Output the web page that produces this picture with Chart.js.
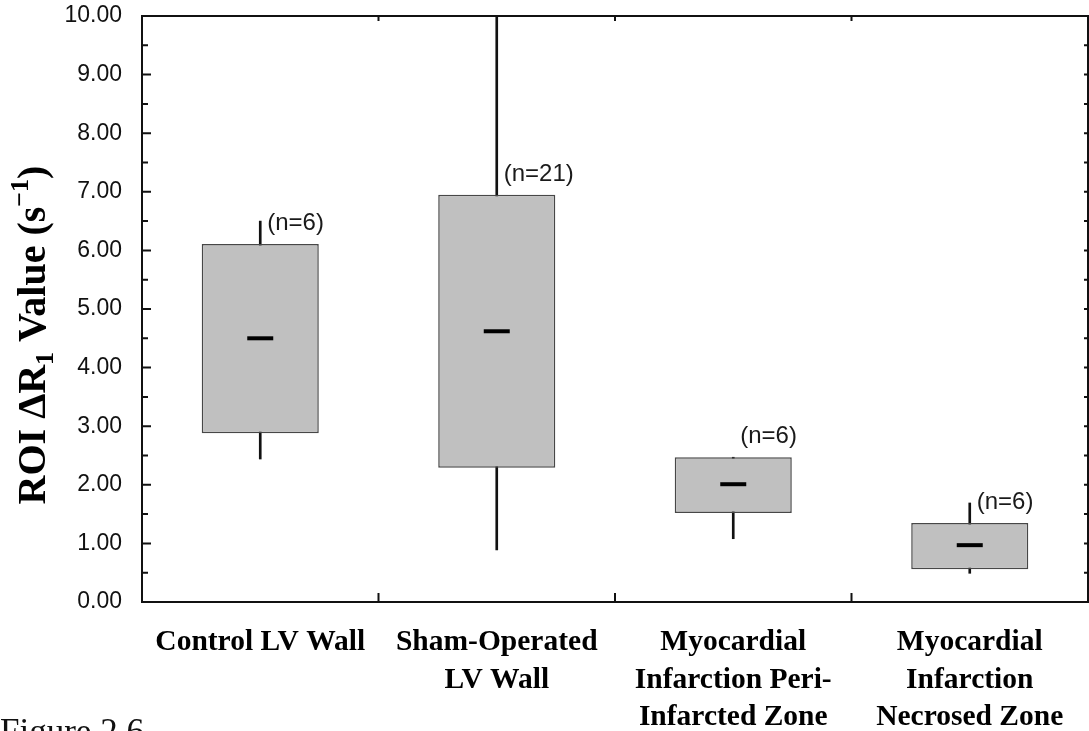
<!DOCTYPE html>
<html>
<head>
<meta charset="utf-8">
<script src="https://cdn.jsdelivr.net/npm/chart.js@4/dist/chart.umd.min.js"></script>
<style>
  html, body { margin: 0; padding: 0; background: #fff; overflow: hidden; }
  #c { display: block; }
</style>
</head>
<body>
<canvas id="c" width="1089" height="731"></canvas>
<script>
// Groups (multi-line category labels)
const categories = [
  ['Control LV Wall'],
  ['Sham-Operated', 'LV Wall'],
  ['Myocardial', 'Infarction Peri-', 'Infarcted Zone'],
  ['Myocardial', 'Infarction', 'Necrosed Zone']
];

// Box-and-whisker summary per group (ROI ΔR1, s^-1)
const minVals    = [2.44, 0.89, 1.08, 0.49];
const q1Vals     = [2.88, 2.29, 1.52, 0.56];
const medianVals = [4.50, 4.62, 2.01, 0.97];
const q3Vals     = [6.11, 6.95, 2.47, 1.35];
const maxVals    = [6.50, 10.00, 2.47, 1.69];
const sampleSizes = [6, 21, 6, 6];

// Y axis range
const yMin = 0;
const yMax = 10;
const yStep = 1;

const SANS = '"Liberation Sans", Arial, Helvetica, sans-serif';
const SERIF = '"Liberation Serif", "Times New Roman", Times, serif';

// Closed frame with inward tick marks on all four sides
const framePlugin = {
  id: 'frame',
  afterDatasetsDraw(chart) {
    const { ctx, chartArea: a, scales: { x, y } } = chart;
    ctx.save();
    ctx.strokeStyle = '#111';
    ctx.lineWidth = 2;
    ctx.strokeRect(a.left, a.top, a.right - a.left, a.bottom - a.top);
    ctx.beginPath();
    for (let v = y.min; v <= y.max + 1e-9; v += yStep / 2) {
      const py = y.getPixelForValue(v);
      const major = Math.abs(v - Math.round(v / yStep) * yStep) < 1e-9;
      ctx.moveTo(a.left, py);  ctx.lineTo(a.left + (major ? 9 : 6), py);
      ctx.moveTo(a.right, py); ctx.lineTo(a.right - 4, py);
    }
    for (let i = 0; i < categories.length - 1; i++) {
      const px = (x.getPixelForValue(i) + x.getPixelForValue(i + 1)) / 2;
      ctx.moveTo(px, a.bottom); ctx.lineTo(px, a.bottom - 9);
      ctx.moveTo(px, a.top);    ctx.lineTo(px, a.top + 5);
    }
    ctx.stroke();
    ctx.restore();
  }
};

// "(n=..)" sample-size notes beside each box
const sampleSizePlugin = {
  id: 'sampleSizes',
  afterDatasetsDraw(chart) {
    const { ctx, scales: { x, y } } = chart;
    ctx.save();
    ctx.font = '24px ' + SANS;
    ctx.fillStyle = '#1a1a1a';
    ctx.textAlign = 'left';
    ctx.textBaseline = 'alphabetic';
    sampleSizes.forEach((n, i) => {
      ctx.fillText('(n=' + n + ')', x.getPixelForValue(i) + 7, y.getPixelForValue(q3Vals[i]) - 14);
    });
    ctx.restore();
  }
};

// Vertical axis title with subscript / superscript, plus the figure caption
const titlePlugin = {
  id: 'titles',
  afterDraw(chart) {
    const { ctx, chartArea: a } = chart;
    const parts = [
      { t: 'ROI \u0394R', size: 40, dy: 0 },
      { t: '1', size: 26, dy: 8 },
      { t: ' Value (s', size: 40, dy: 0 },
      { t: '\u22121', size: 26, dy: -17 },
      { t: ')', size: 40, dy: 0 }
    ];
    ctx.save();
    ctx.fillStyle = '#000';
    ctx.textBaseline = 'alphabetic';
    let total = 0;
    parts.forEach(p => {
      ctx.font = 'bold ' + p.size + 'px ' + SERIF;
      p.w = ctx.measureText(p.t).width;
      total += p.w;
    });
    const cx = 45;
    const cy = (a.top + a.bottom) / 2 + 26;
    ctx.translate(cx, cy);
    ctx.rotate(-Math.PI / 2);
    let xPos = -total / 2;
    parts.forEach(p => {
      ctx.font = 'bold ' + p.size + 'px ' + SERIF;
      ctx.fillText(p.t, xPos, p.dy);
      xPos += p.w;
    });
    ctx.restore();

    ctx.save();
    ctx.fillStyle = '#111';
    ctx.font = '35px ' + SERIF;
    ctx.textAlign = 'left';
    ctx.textBaseline = 'alphabetic';
    ctx.fillText('Figure 2.6', 0, 743);
    ctx.restore();
  }
};

new Chart(document.getElementById('c'), {
  type: 'bar',
  data: {
    labels: categories,
    datasets: [
      {
        type: 'line',
        label: 'Median',
        data: medianVals,
        showLine: false,
        pointStyle: 'line',
        pointRadius: 13,
        pointHoverRadius: 13,
        pointBorderWidth: 4,
        pointBorderColor: '#000',
        pointBackgroundColor: '#000',
        order: 1
      },
      {
        label: 'Interquartile range',
        data: q1Vals.map((v, i) => [v, q3Vals[i]]),
        backgroundColor: '#c0c0c0',
        borderColor: '#474747',
        borderWidth: 1.5,
        borderSkipped: false,
        barPercentage: 0.495,
        categoryPercentage: 1,
        grouped: false,
        order: 2
      },
      {
        label: 'Range',
        data: minVals.map((v, i) => [v, maxVals[i]]),
        backgroundColor: '#111',
        borderWidth: 0,
        barThickness: 2,
        grouped: false,
        order: 3
      }
    ]
  },
  options: {
    responsive: false,
    animation: false,
    devicePixelRatio: 1,
    layout: { autoPadding: false, padding: { top: 16, right: 1, left: 0, bottom: 0 } },
    plugins: {
      legend: { display: false },
      tooltip: { enabled: false },
      title: { display: false }
    },
    scales: {
      x: {
        offset: true,
        grid: { display: false, drawTicks: false },
        border: { display: false },
        ticks: {
          padding: 22,
          color: '#000',
          maxRotation: 0,
          autoSkip: false,
          font: { family: SERIF, size: 29.5, weight: 'bold', lineHeight: 1.27 }
        },
        afterFit(scale) {
          scale.height = 129;
          scale.paddingLeft = 0;
          scale.paddingRight = 0;
        }
      },
      y: {
        min: yMin,
        max: yMax,
        grid: { display: false, drawTicks: false },
        border: { display: false },
        ticks: {
          stepSize: yStep,
          padding: 20,
          color: '#111',
          font: { family: SANS, size: 23 },
          callback: v => Number(v).toFixed(2)
        },
        afterFit(scale) {
          scale.width = 142;
          scale.paddingTop = 0;
          scale.paddingBottom = 0;
        }
      }
    }
  },
  plugins: [framePlugin, sampleSizePlugin, titlePlugin]
});
</script>
</body>
</html>
